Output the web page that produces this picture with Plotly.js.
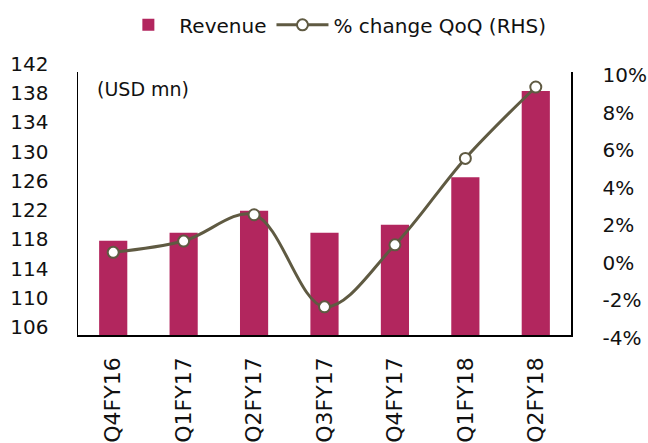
<!DOCTYPE html>
<html>
<head>
<meta charset="utf-8">
<script src="https://cdn.plot.ly/plotly-3.0.1.min.js"></script>
<style>html,body{margin:0;padding:0;background:#fff}#chart{width:648px;height:443px}</style>
</head>
<body>
<div id="chart"></div>
<script>
const categories = ["Q4FY16","Q1FY17","Q2FY17","Q3FY17","Q4FY17","Q1FY18","Q2FY18"];
const revenue = [118.9, 120.0, 123.0, 120.0, 121.1, 127.6, 139.4];
const qoqChange = [0.4, 1.0, 2.4, -2.5, 0.8, 5.4, 9.2];
const leftTicks = [106,110,114,118,122,126,130,134,138,142];
const rightTicks = [-4,-2,0,2,4,6,8,10];

const FONT = "'DejaVu Sans', sans-serif";
const traces = [
  {type:"bar", name:"Revenue", x:categories, y:revenue, marker:{color:"#b2265e"}, width:0.4},
  {type:"scatter", mode:"lines+markers", name:"% change QoQ (RHS)", x:categories, y:qoqChange, yaxis:"y2",
   line:{color:"#5f5a42", width:3, shape:"spline", smoothing:1},
   marker:{size:11, color:"#ffffff", line:{color:"#5f5a42", width:2}}}
];
const layout = {
  width:648, height:443,
  margin:{l:78, r:77, t:72, b:108},
  paper_bgcolor:"#fff", plot_bgcolor:"#fff",
  font:{family:FONT, size:19, color:"#111"},
  showlegend:true,
  legend:{orientation:"h", x:0.52, xref:"paper", xanchor:"center", y:0.988, yref:"container", yanchor:"top", font:{size:20}, itemwidth:52, tracegroupgap:0},
  xaxis:{type:"category", range:[-0.5,6.5], showline:true, linecolor:"#000", linewidth:1.5, ticks:"", tickangle:-90, tickfont:{size:22}, showgrid:false, ticklabelstandoff:12},
  yaxis:{range:[106,142], tickvals:leftTicks, showline:true, linecolor:"#000", linewidth:1.5, ticks:"", showgrid:false, zeroline:false, tickfont:{size:20}, ticklabelstandoff:24, ticklabelshift:-8},
  yaxis2:{range:[-4,10], tickvals:rightTicks, ticktext:rightTicks.map(v=>v+"%"), overlaying:"y", side:"right", showline:true, linecolor:"#000", linewidth:1.5, ticks:"", showgrid:false, zeroline:false, tickfont:{size:20}, ticklabelstandoff:26, ticklabelshift:3},
  annotations:[{text:"(USD mn)", xref:"paper", yref:"paper", x:0.035, y:0.985, xanchor:"left", yanchor:"top", showarrow:false, font:{size:19, color:"#111"}}],
  bargap:0.6
};
Plotly.newPlot("chart", traces, layout, {displayModeBar:false, staticPlot:true});
</script>
</body>
</html>
